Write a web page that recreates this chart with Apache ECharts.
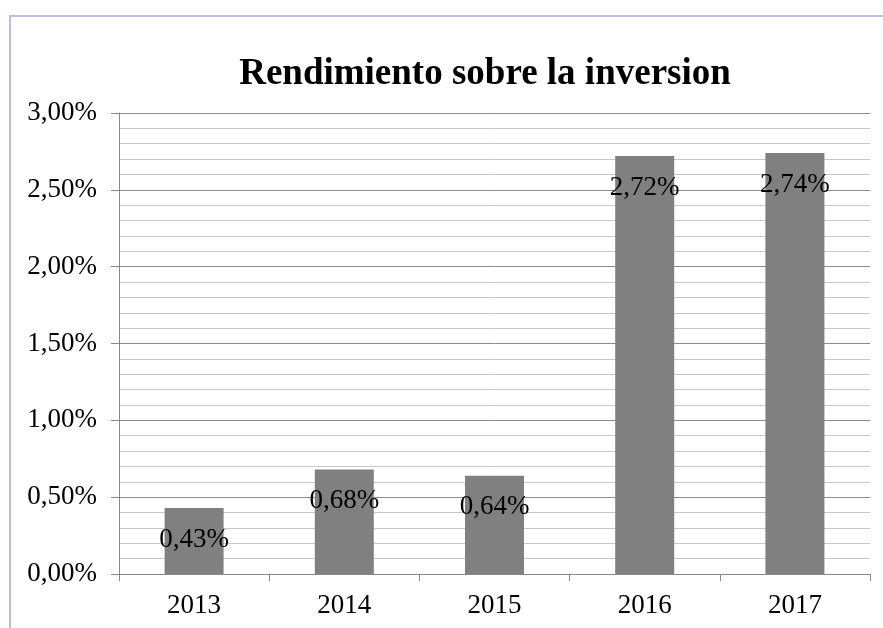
<!DOCTYPE html>
<html>
<head>
<meta charset="utf-8">
<script src="https://cdn.jsdelivr.net/npm/echarts@6/dist/echarts.min.js"></script>
<style>
  html, body { margin: 0; padding: 0; background: #fff; }
  #main { width: 883px; height: 628px; }
</style>
</head>
<body>
<div id="main"></div>
<script>
// datos del grafico
var years = ['2013', '2014', '2015', '2016', '2017'];
var rendimiento = [0.43, 0.68, 0.64, 2.72, 2.74];

var serif = "'Liberation Serif', 'Times New Roman', serif";

function pct(v) {
  return v.toFixed(2).replace('.', ',') + '%';
}

var myChart = echarts.init(document.getElementById('main'));
myChart.setOption({
  animation: false,
  graphic: [{
    type: 'rect',
    shape: { x: 10, y: 16, width: 900, height: 700 },
    style: { fill: 'none', stroke: '#b8c0ea', lineWidth: 2 },
    silent: true
  }],
  title: {
    text: 'Rendimiento sobre la inversion',
    left: 480,
    textAlign: 'center',
    top: 51,
    textStyle: { fontFamily: serif, fontSize: 37, fontWeight: 'bold', color: '#000' }
  },
  grid: { left: 119, right: 13, top: 113, bottom: 54 },
  xAxis: {
    type: 'category',
    data: years,
    axisLine: { lineStyle: { color: '#888', width: 1 } },
    axisTick: { show: true, length: 7, lineStyle: { color: '#888' } },
    axisLabel: { fontFamily: serif, fontSize: 27, color: '#000', margin: 18 }
  },
  yAxis: {
    type: 'value',
    min: 0,
    max: 3,
    interval: 0.5,
    axisLine: { show: true, lineStyle: { color: '#888', width: 1 } },
    axisTick: { show: true, length: 8, lineStyle: { color: '#888' } },
    axisLabel: { fontFamily: serif, fontSize: 27, color: '#000', margin: 22, formatter: pct },
    splitLine: { lineStyle: { color: '#8c8c8c', width: 1 } },
    minorTick: { show: false, splitNumber: 5 },
    minorSplitLine: { show: true, lineStyle: { color: '#c8c8c8', width: 1 } }
  },
  series: [{
    type: 'bar',
    data: rendimiento,
    barWidth: 59,
    itemStyle: { color: '#808080' },
    label: {
      show: true,
      position: 'insideTop',
      distance: 18,
      formatter: function (p) { return pct(p.value); },
      fontFamily: serif,
      fontSize: 27,
      color: '#000'
    }
  }]
});
</script>
</body>
</html>
